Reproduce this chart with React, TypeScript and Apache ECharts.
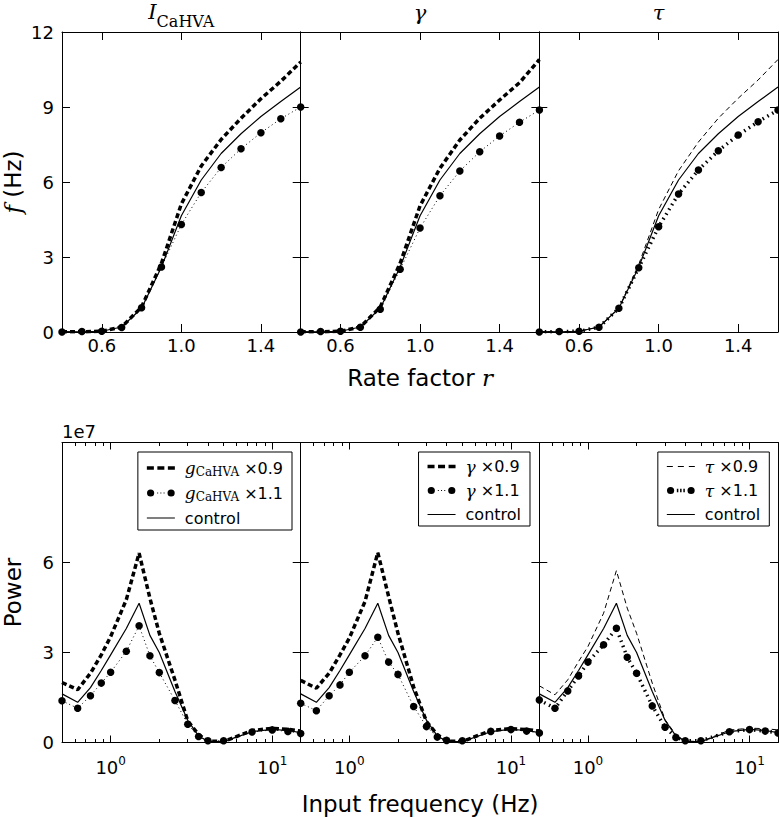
import React, { useEffect, useRef } from "react";
import * as echarts from "echarts";

// ---------- data: top row, firing rate f (Hz) vs rate factor r ----------
const rateFactor = [0.4, 0.5, 0.6, 0.7, 0.8, 0.9, 1.0, 1.1, 1.2, 1.3, 1.4, 1.5, 1.6];
const fControl = [0.02, 0.01, 0.03, 0.2, 0.95, 2.6, 4.65, 6.08, 7.14, 7.93, 8.62, 9.22, 9.8];
const fGCa09 = [0.01, 0.01, 0.03, 0.2, 1.0, 2.75, 5.12, 6.64, 7.7, 8.55, 9.33, 10.03, 10.8];
const fGCa11 = [0.0, 0.02, 0.03, 0.18, 0.97, 2.6, 4.3, 5.58, 6.58, 7.33, 7.97, 8.53, 9.0];
const fGamma09 = [0.01, 0.01, 0.03, 0.2, 1.0, 2.75, 5.05, 6.55, 7.68, 8.55, 9.28, 9.97, 10.9];
const fGamma11 = [0.0, 0.02, 0.03, 0.19, 0.91, 2.51, 4.16, 5.45, 6.44, 7.21, 7.84, 8.39, 8.88];
const fTau09 = [0.01, 0.01, 0.03, 0.2, 0.95, 2.7, 4.9, 6.45, 7.6, 8.55, 9.35, 10.08, 10.9];
const fTau11 = [0.0, 0.02, 0.03, 0.19, 0.95, 2.57, 4.21, 5.52, 6.48, 7.25, 7.88, 8.41, 8.88];

// ---------- data: bottom row, power vs input frequency (Hz) ----------
const inputFreq = [0.5, 0.625, 0.75, 0.875, 1, 1.25, 1.5, 1.75, 2, 2.5, 3, 3.5, 4, 5, 7.5, 10, 12.5, 15];
const pControl = [1.62e7, 1.34e7, 1.83e7, 2.4e7, 2.92e7, 3.8e7, 4.64e7, 3.57e7, 3.0e7, 1.7e7, 0.74e7, 0.22e7, 0.04e7, 0.03e7, 0.36e7, 0.44e7, 0.4e7, 0.33e7];
const pGCa09 = [2.0e7, 1.76e7, 2.31e7, 2.92e7, 3.53e7, 4.76e7, 6.31e7, 4.81e7, 3.64e7, 2.08e7, 0.72e7, 0.26e7, 0.05e7, 0.03e7, 0.4e7, 0.47e7, 0.44e7, 0.38e7];
const pGCa11 = [1.39e7, 1.14e7, 1.56e7, 1.98e7, 2.34e7, 3.04e7, 3.89e7, 2.89e7, 2.33e7, 1.4e7, 0.61e7, 0.2e7, 0.06e7, 0.06e7, 0.35e7, 0.42e7, 0.37e7, 0.3e7];
const pGamma09 = [2.07e7, 1.81e7, 2.31e7, 2.92e7, 3.48e7, 4.7e7, 6.33e7, 4.87e7, 3.64e7, 1.85e7, 0.7e7, 0.26e7, 0.05e7, 0.03e7, 0.4e7, 0.46e7, 0.43e7, 0.38e7];
const pGamma11 = [1.31e7, 1.06e7, 1.56e7, 1.92e7, 2.34e7, 2.89e7, 3.51e7, 2.68e7, 2.27e7, 1.2e7, 0.53e7, 0.18e7, 0.07e7, 0.06e7, 0.37e7, 0.43e7, 0.38e7, 0.32e7];
const pTau09 = [1.89e7, 1.59e7, 2.09e7, 2.7e7, 3.2e7, 4.31e7, 5.73e7, 4.48e7, 3.64e7, 1.98e7, 0.76e7, 0.26e7, 0.05e7, 0.03e7, 0.41e7, 0.48e7, 0.46e7, 0.42e7];
const pTau11 = [1.42e7, 1.14e7, 1.72e7, 2.22e7, 2.68e7, 3.26e7, 3.81e7, 2.84e7, 2.31e7, 1.22e7, 0.51e7, 0.17e7, 0.06e7, 0.06e7, 0.36e7, 0.43e7, 0.38e7, 0.32e7];

// ---------- ticks ----------
const rateTicks = [0.6, 1.0, 1.4];
const powerTicks = [0, 3e7, 6e7];
const minorFreqTicks = [0.6, 0.7, 0.8, 0.9, 2, 3, 4, 5, 6, 7, 8, 9];

// ---------- names ----------
const N_G09 = "gCaHVA ×0.9";
const N_G11 = "gCaHVA ×1.1";
const N_Y09 = "γ ×0.9";
const N_Y11 = "γ ×1.1";
const N_T09 = "τ ×0.9";
const N_T11 = "τ ×1.1";
const N_CTRL = "control";

const SANS = "'DejaVu Sans', sans-serif";
const SERIF = "'DejaVu Serif', serif";

const PANEL_LEFT = [62, 300.7, 539.3];
const PANEL_W = 238.7;
const TOP_Y = 32;
const BOT_Y = 442.5;
const PANEL_H = 300;

const STYLES: Record<string, any> = {
  thickDash: { symbol: "none", lineStyle: { color: "#000", width: 3.5, type: [5, 3] } },
  thinDotMarks: { symbol: "circle", symbolSize: 7.5, lineStyle: { color: "#000", width: 1, type: [1, 3] } },
  thinDash: { symbol: "none", lineStyle: { color: "#000", width: 1, type: [5, 3.5] } },
  thickDotMarks: { symbol: "circle", symbolSize: 7.5, lineStyle: { color: "#000", width: 3.5, type: [1.5, 4] } },
  solid: { symbol: "none", lineStyle: { color: "#000", width: 1.2, type: "solid" } },
};

const panels = [
  { n09: N_G09, n11: N_G11, f09: fGCa09, f11: fGCa11, p09: pGCa09, p11: pGCa11, s09: "thickDash", s11: "thinDotMarks" },
  { n09: N_Y09, n11: N_Y11, f09: fGamma09, f11: fGamma11, p09: pGamma09, p11: pGamma11, s09: "thickDash", s11: "thinDotMarks" },
  { n09: N_T09, n11: N_T11, f09: fTau09, f11: fTau11, p09: pTau09, p11: pTau11, s09: "thinDash", s11: "thickDotMarks" },
];

// legend icons (33 x 10 box; visible sample in 0..28)
const CORNERS = "M0 0h0.01v0.01h-0.01zM32.99 9.99h0.01v0.01h-0.01z";
const circ = (cx: number, cy: number, r: number) =>
  `M${cx - r} ${cy}a${r} ${r} 0 1 0 ${2 * r} 0a${r} ${r} 0 1 0 ${-2 * r} 0z`;
const ICONS: Record<string, string> = {
  solid: "path://" + CORNERS + "M0 4.5h28v1h-28z",
  thickDash: "path://" + CORNERS + "M0 3.25h7v3.5h-7zM10.5 3.25h7v3.5h-7zM21 3.25h7v3.5h-7z",
  thinDash: "path://" + CORNERS + "M0 4.5h6v1h-6zM11 4.5h6v1h-6zM22 4.5h6v1h-6z",
  thinDotMarks:
    "path://" + CORNERS + circ(3.75, 5, 3.6) + circ(24.25, 5, 3.6) + "M10.3 4.5h1v1h-1zM13.5 4.5h1v1h-1zM16.7 4.5h1v1h-1z",
  thickDotMarks:
    "path://" + CORNERS + circ(3.75, 5, 3.6) + circ(24.25, 5, 3.6) + "M10 3.25h1.5v3.5h-1.5zM13.25 3.25h1.5v3.5h-1.5zM16.5 3.25h1.5v3.5h-1.5z",
};

const LEGEND_TEXT: Record<string, string> = {
  [N_G09]: "{i|g}{s|CaHVA}{n| ×0.9}",
  [N_G11]: "{i|g}{s|CaHVA}{n| ×1.1}",
  [N_Y09]: "{i|γ}{n| ×0.9}",
  [N_Y11]: "{i|γ}{n| ×1.1}",
  [N_T09]: "{i|τ}{n| ×0.9}",
  [N_T11]: "{i|τ}{n| ×1.1}",
  [N_CTRL]: "{n|control}",
};

const zip = (xs: number[], ys: number[]) => xs.map((x, k) => [x, ys[k]]);

function frameLine(show = true) {
  return { show, onZero: false, lineStyle: { color: "#000", width: 1 } };
}
const TICK_LINE = { color: "#000", width: 1 };

function buildOption() {
  const grid: any[] = [];
  const xAxis: any[] = [];
  const yAxis: any[] = [];
  const series: any[] = [];
  const legend: any[] = [];

  for (let i = 0; i < 3; i++) {
    grid.push({ left: PANEL_LEFT[i], top: TOP_Y, width: PANEL_W, height: PANEL_H, outerBoundsMode: "none", containLabel: false });
  }
  for (let i = 0; i < 3; i++) {
    grid.push({ left: PANEL_LEFT[i], top: BOT_Y, width: PANEL_W, height: PANEL_H, outerBoundsMode: "none", containLabel: false });
  }

  // top row axes
  for (let i = 0; i < 3; i++) {
    const base = {
      type: "value",
      gridIndex: i,
      min: 0.4,
      max: 1.6,
      axisLine: frameLine(),
      axisTick: { show: true, inside: true, length: 8, customValues: rateTicks, lineStyle: TICK_LINE },
      splitLine: { show: false },
    };
    xAxis.push({
      ...base,
      position: "bottom",
      axisLabel: {
        show: true,
        customValues: rateTicks,
        formatter: (v: number) => v.toFixed(1),
        color: "#000",
        fontSize: 18,
        fontFamily: SANS,
        margin: 4,
      },
      ...(i === 1
        ? {
            name: "{t|Rate factor }{r|r}",
            nameLocation: "middle",
            nameGap: 34,
            nameTextStyle: {
              color: "#000",
              rich: {
                t: { fontFamily: SANS, fontSize: 23, color: "#000" },
                r: { fontFamily: SERIF, fontStyle: "italic", fontSize: 23, color: "#000" },
              },
            },
          }
        : {}),
    });
    xAxis.push({ ...base, position: "top", axisLabel: { show: false } });

    const ybase = {
      type: "value",
      gridIndex: i,
      min: 0,
      max: 12,
      interval: 3,
      axisLine: frameLine(),
      axisTick: { show: true, inside: true, length: 8, lineStyle: TICK_LINE },
      splitLine: { show: false },
    };
    yAxis.push({
      ...ybase,
      position: "left",
      axisLabel: { show: i === 0, color: "#000", fontSize: 18, fontFamily: SANS, margin: 8 },
      ...(i === 0
        ? {
            name: "{f|f}{t| (Hz)}",
            nameLocation: "middle",
            nameGap: 38,
            nameTextStyle: {
              color: "#000",
              rich: {
                f: { fontFamily: SERIF, fontStyle: "italic", fontSize: 23, color: "#000" },
                t: { fontFamily: SANS, fontSize: 23, color: "#000" },
              },
            },
          }
        : {}),
    });
    yAxis.push({ ...ybase, position: "right", axisLabel: { show: false } });
  }

  // bottom row axes
  const logMin = Math.log10(0.5);
  const logMax = Math.log10(15);
  const minorLog = minorFreqTicks.map((v) => Math.log10(v));
  for (let i = 0; i < 3; i++) {
    const g = 3 + i;
    const logBase = {
      type: "log",
      logBase: 10,
      gridIndex: g,
      min: 0.5,
      max: 15,
      axisLine: frameLine(),
      axisTick: { show: true, inside: true, length: 7, lineStyle: TICK_LINE },
      minorTick: { show: false },
      splitLine: { show: false },
      minorSplitLine: { show: false },
    };
    xAxis.push({
      ...logBase,
      position: "bottom",
      axisLabel: {
        show: true,
        showMinLabel: false,
        showMaxLabel: false,
        margin: 12,
        color: "#000",
        formatter: (v: number) => `{b|10}{e|${Math.round(Math.log10(v))}}`,
        rich: {
          b: { fontFamily: SANS, fontSize: 18, lineHeight: 22, color: "#000", verticalAlign: "bottom" },
          e: { fontFamily: SANS, fontSize: 12, lineHeight: 12, color: "#000", verticalAlign: "top" },
        },
      },
      ...(i === 1
        ? {
            name: "Input frequency (Hz)",
            nameLocation: "middle",
            nameGap: 50,
            nameTextStyle: { color: "#000", fontFamily: SANS, fontSize: 23 },
          }
        : {}),
    });
    xAxis.push({ ...logBase, position: "top", axisLabel: { show: false } });
    const minorBase = {
      type: "value",
      gridIndex: g,
      min: logMin,
      max: logMax,
      axisLine: frameLine(false),
      axisTick: { show: true, inside: true, length: 3.5, customValues: minorLog, lineStyle: TICK_LINE },
      axisLabel: { show: false },
      splitLine: { show: false },
    };
    xAxis.push({ ...minorBase, position: "bottom" });
    xAxis.push({ ...minorBase, position: "top" });

    const ybase = {
      type: "value",
      gridIndex: g,
      min: 0,
      max: 1e8,
      axisLine: frameLine(),
      axisTick: { show: true, inside: true, length: 8, customValues: powerTicks, lineStyle: TICK_LINE },
      splitLine: { show: false },
    };
    yAxis.push({
      ...ybase,
      position: "left",
      axisLabel: {
        show: i === 0,
        customValues: powerTicks,
        formatter: (v: number) => String(Math.round(v / 1e7)),
        color: "#000",
        fontSize: 18,
        fontFamily: SANS,
        margin: 8,
      },
      ...(i === 0
        ? {
            name: "Power",
            nameLocation: "middle",
            nameGap: 38,
            nameTextStyle: { color: "#000", fontFamily: SANS, fontSize: 23 },
          }
        : {}),
    });
    yAxis.push({ ...ybase, position: "right", axisLabel: { show: false } });
  }

  // series + legends
  panels.forEach((p, i) => {
    const common = { type: "line", silent: true, clip: true, showAllSymbol: true, itemStyle: { color: "#000" }, color: "#000" };
    series.push({ ...common, ...STYLES[p.s09], name: p.n09, xAxisIndex: 2 * i, yAxisIndex: 2 * i, data: zip(rateFactor, p.f09), z: 3 });
    series.push({ ...common, ...STYLES[p.s11], name: p.n11, xAxisIndex: 2 * i, yAxisIndex: 2 * i, data: zip(rateFactor, p.f11), z: 4 });
    series.push({ ...common, ...STYLES.solid, name: N_CTRL, xAxisIndex: 2 * i, yAxisIndex: 2 * i, data: zip(rateFactor, fControl), z: 5 });
    const xi = 6 + 4 * i;
    const yi = 6 + 2 * i;
    series.push({ ...common, ...STYLES[p.s09], name: p.n09, xAxisIndex: xi, yAxisIndex: yi, data: zip(inputFreq, p.p09), z: 3 });
    series.push({ ...common, ...STYLES[p.s11], name: p.n11, xAxisIndex: xi, yAxisIndex: yi, data: zip(inputFreq, p.p11), z: 4 });
    series.push({ ...common, ...STYLES.solid, name: N_CTRL, xAxisIndex: xi, yAxisIndex: yi, data: zip(inputFreq, pControl), z: 5 });

    const rightEdges = [292, 530, 769.3];
    const lh = i === 0 ? 20 : 19;
    legend.push({
      show: true,
      orient: "vertical",
      right: 779 - rightEdges[i],
      top: 452,
      selectedMode: false,
      itemWidth: 33,
      itemHeight: 10,
      itemGap: 5,
      padding: i === 0 ? [6, 9, 2, 9] : [5, 9, 2, 9],
      borderColor: "#000",
      borderWidth: 1,
      borderRadius: 0,
      backgroundColor: "#fff",
      z: 20,
      itemStyle: { color: "#000", borderWidth: 0 },
      data: [
        { name: p.n09, icon: ICONS[p.s09] },
        { name: p.n11, icon: ICONS[p.s11] },
        { name: N_CTRL, icon: ICONS.solid },
      ],
      formatter: (name: string) => LEGEND_TEXT[name] ?? name,
      textStyle: {
        color: "#000",
        fontFamily: SANS,
        fontSize: 16,
        lineHeight: lh,
        rich: {
          i: { fontFamily: SERIF, fontStyle: "italic", fontSize: 17, lineHeight: lh, color: "#000" },
          s: { fontFamily: SERIF, fontSize: 12, lineHeight: 12, color: "#000", verticalAlign: "bottom" },
          n: { fontFamily: SANS, fontSize: 16, lineHeight: lh, color: "#000" },
        },
      },
    });
  });

  const centers = PANEL_LEFT.map((l) => l + PANEL_W / 2);
  const graphic = [
    {
      type: "text",
      x: centers[0],
      y: 1,
      silent: true,
      style: {
        text: "{I|I}{s|CaHVA}",
        align: "center",
        verticalAlign: "top",
        fill: "#000",
        rich: {
          I: { fontFamily: SERIF, fontStyle: "italic", fontSize: 21, lineHeight: 20, verticalAlign: "top", fill: "#000" },
          s: { fontFamily: SERIF, fontSize: 16, lineHeight: 16, verticalAlign: "top", padding: [12, 0, 0, 0], fill: "#000" },
        },
      },
    },
    {
      type: "text",
      x: centers[1],
      y: 12.5,
      silent: true,
      style: { text: "γ", align: "center", verticalAlign: "middle", fontFamily: SERIF, fontStyle: "italic", fontSize: 21, fill: "#000" },
    },
    {
      type: "text",
      x: centers[2],
      y: 12.5,
      silent: true,
      style: { text: "τ", align: "center", verticalAlign: "middle", fontFamily: SERIF, fontStyle: "italic", fontSize: 21, fill: "#000" },
    },
    {
      type: "text",
      x: 62,
      y: 431,
      silent: true,
      style: { text: "1e7", align: "left", verticalAlign: "middle", fontFamily: SANS, fontSize: 18, fill: "#000" },
    },
  ];

  return {
    animation: false,
    backgroundColor: "#fff",
    textStyle: { fontFamily: SANS, color: "#000" },
    grid,
    xAxis,
    yAxis,
    series,
    legend,
    graphic,
  };
}

export default function App() {
  const ref = useRef<HTMLDivElement>(null);
  useEffect(() => {
    document.body.style.margin = "0";
    const chart = echarts.init(ref.current as HTMLDivElement, null, { renderer: "svg" });
    chart.setOption(buildOption() as any);
    return () => {
      chart.dispose();
    };
  }, []);
  return <div ref={ref} style={{ width: 779, height: 817 }} />;
}
